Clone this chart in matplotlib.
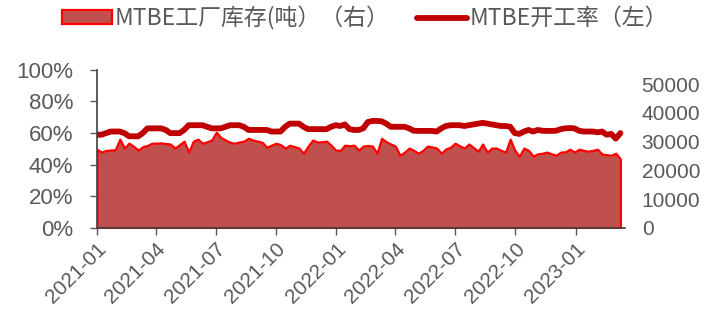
import matplotlib
matplotlib.use("Agg")
import matplotlib.pyplot as plt
import matplotlib.dates as mdates
from matplotlib.patches import Patch
from matplotlib.lines import Line2D
from matplotlib.ticker import FuncFormatter, FixedLocator
import pandas as pd

# 周度数据，2021-01 起
start = "2021-01-01"

# MTBE工厂库存（吨），右轴
inventory = [
    27400, 26400, 27000, 27100, 27200, 30900, 27800, 29500, 28400, 27100,
    28300, 28700, 29500, 29500, 29600, 29400, 29200, 27800, 29000, 30200,
    26400, 30200, 30900, 29500, 30000, 30600, 33300, 31500, 30600, 29800,
    29500, 29900, 30200, 31200, 30600, 30200, 29800, 28100, 28800, 29500,
    29000, 27800, 28800, 28300, 27800, 26000, 28500, 30600, 29900, 30000,
    30200, 28800, 27100, 27000, 28800, 28600, 28800, 27100, 28500, 28700,
    28500, 26000, 31200, 30000, 29200, 28500, 25300, 26400, 27800, 27000,
    26000, 27000, 28500, 28200, 27800, 26000, 27500, 28100, 29500, 28600,
    27800, 29200, 28000, 26700, 29200, 26400, 27800, 27800, 27000, 26400,
    30900, 27000, 25000, 27800, 27000, 25000, 25800, 26000, 26400, 25800,
    25300, 26400, 26500, 27400, 26400, 27400, 27000, 26700, 27000, 27400,
    25700, 25500, 25300, 26000, 24000,
]

# MTBE开工率（%），左轴
rate = [
    59, 59, 60, 61, 61, 61, 60, 58, 58, 58,
    60, 63, 63, 63, 63, 62, 60, 60, 60, 62,
    65, 65, 65, 65, 64, 63, 63, 63, 64, 65,
    65, 65, 64, 62, 62, 62, 62, 62, 61, 61,
    61, 64, 66, 66, 66, 64, 62.5, 62.5, 62.5, 62.5,
    62.5, 64, 65, 64.5, 65.5, 62.5, 62, 62, 63, 67,
    67.7, 67.7, 67.5, 66, 64, 64, 64, 64, 63, 61.5,
    61.4, 61.4, 61.4, 61.4, 61, 63, 64.5, 65, 65, 65,
    64.5, 65, 65.5, 66, 66.5, 66, 65.5, 65, 64.5, 64.5,
    64, 60, 59.5, 61, 62, 61, 62, 61.5, 61.4, 61.4,
    61.5, 62.5, 63, 63.2, 63, 61.5, 61, 61, 61, 60.5,
    61, 59, 59.5, 56.5, 60,
]

x_ticks = ["2021-01", "2021-04", "2021-07", "2021-10", "2022-01",
           "2022-04", "2022-07", "2022-10", "2023-01"]

dates = pd.date_range(start, periods=len(rate), freq="7D")

grey = "#595959"
font_num = "Liberation Sans"
font_cn = ["Noto Sans CJK SC", "DejaVu Sans"]

fig = plt.figure(figsize=(7.07, 3.22), dpi=100)
ax = fig.add_axes([0.137, 0.292, 0.747, 0.491])
ax2 = ax.twinx()

# 库存面积图（右轴）
ax2.fill_between(dates, inventory, 0, facecolor="#C0504D", edgecolor="#FF0000",
                 linewidth=1.6)
ax2.set_ylim(0, 55000)
ax2.yaxis.set_major_locator(FixedLocator([0, 10000, 20000, 30000, 40000, 50000]))
ax2.tick_params(axis="y", length=0, pad=12, labelsize=15, labelcolor=grey)

# 开工率折线（左轴），画在面积图之上
ax.plot(dates, rate, color="#C00000", linewidth=4.2, solid_capstyle="round")
ax.set_zorder(ax2.get_zorder() + 1)
ax.patch.set_visible(False)
ax.set_ylim(0, 100)
ax.set_yticks([0, 20, 40, 60, 80, 100])
ax.yaxis.set_major_formatter(FuncFormatter(lambda v, p: f"{int(v)}%"))
ax.tick_params(axis="y", direction="out", length=5, width=1, color=grey,
               pad=12, labelsize=16, labelcolor=grey)

ax.set_xlim(pd.Timestamp(start), dates[-1] + pd.Timedelta(days=7))
ax.set_xticks([pd.Timestamp(t + "-01") for t in x_ticks])
ax.xaxis.set_major_formatter(mdates.DateFormatter("%Y-%m"))
ax.tick_params(axis="x", direction="out", length=5, width=1, color=grey,
               pad=3, labelsize=15, labelcolor=grey)
for lab in ax.get_xticklabels():
    lab.set_rotation(45)
    lab.set_ha("right")
    lab.set_rotation_mode("anchor")

for a in (ax, ax2):
    for lab in a.get_xticklabels() + a.get_yticklabels():
        lab.set_fontfamily(font_num)
    a.spines["top"].set_visible(False)
    a.spines["right"].set_visible(False)
ax2.spines["left"].set_visible(False)
ax2.spines["bottom"].set_visible(False)
ax.spines["left"].set_color("#404040")
ax.spines["bottom"].set_color("#404040")
ax.spines["left"].set_linewidth(1.2)
ax.spines["bottom"].set_linewidth(1.2)

handles = [
    Patch(facecolor="#C0504D", edgecolor="#FF0000", linewidth=1.6),
    Line2D([], [], color="#C00000", linewidth=4.2, solid_capstyle="round"),
]
labels = ["MTBE工厂库存(吨）（右）", "MTBE开工率（左）"]
fig.legend(handles, labels, loc="center", bbox_to_anchor=(0.516, 0.944),
           ncol=2, frameon=False, handlelength=2.2, handleheight=0.5,
           handletextpad=0.1, columnspacing=1.2,
           prop={"family": font_cn, "size": 16.5}, labelcolor=grey)

fig.savefig("out.png", dpi=100)
